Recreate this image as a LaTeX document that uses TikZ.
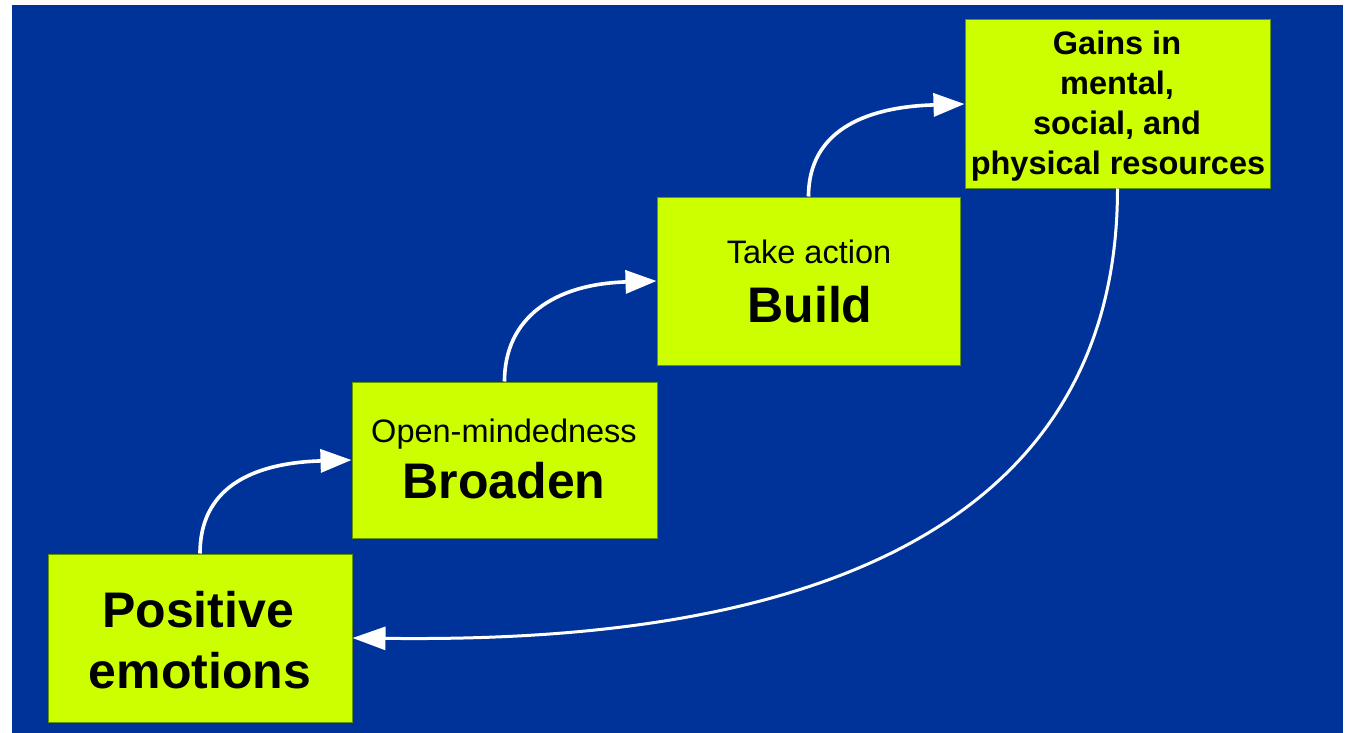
\documentclass[tikz,border=0pt]{standalone}
\usepackage{fontspec}
\setmainfont{Liberation Sans}
\usetikzlibrary{arrows.meta}
\definecolor{bgblue}{RGB}{0,51,153}
\definecolor{boxfill}{RGB}{204,255,0}
\definecolor{boxline}{RGB}{100,150,0}
\tikzset{
  box/.style={draw=boxline, line width=1pt, fill=boxfill, inner sep=0pt, rectangle},
  bigtxt/.style={anchor=base, inner sep=0pt, font=\fontsize{50}{61}\selectfont\bfseries},
  smalltxt/.style={anchor=base, inner sep=0pt, font=\fontsize{32.5}{40}\selectfont},
  gaintxt/.style={anchor=base, inner sep=0pt, font=\fontsize{32.5}{40}\selectfont\bfseries},
  arr/.style={draw=white, line width=3.6pt, -{Triangle[length=31pt,width=23pt]}},
  arrlong/.style={draw=white, line width=3pt, -{Triangle[length=33pt,width=23pt]}},
}
\begin{document}
\begin{tikzpicture}[x=1pt,y=-1pt]
\fill[white] (0,0) rectangle (1355,733);
\useasboundingbox (0,0) rectangle (1355,733);
\fill[bgblue] (12,5) rectangle (1343,733);

\node[box, minimum width=304pt, minimum height=168pt] (pos) at (200,638) {};
\node[box, minimum width=305pt, minimum height=156pt] (broad) at (504.5,460) {};
\node[box, minimum width=303pt, minimum height=168pt] (build) at (808.5,281) {};
\node[box, minimum width=305pt, minimum height=168pt] (gains) at (1117.5,104) {};

\node[bigtxt] (pos1) at (198,627) {Positive};
\node[bigtxt] (pos2) at (200,688) {emotions};

\node[smalltxt] (br1) at (504,442) {Open-mindedness};
\node[bigtxt] (br2) at (504,498) {Broaden};

\node[smalltxt] (bu1) at (809,263) {Take action};
\node[bigtxt] (bu2) at (810,322) {Build};

\node[gaintxt] (g1) at (1117,55) {Gains in};
\node[gaintxt] (g2) at (1117,95) {mental,};
\node[gaintxt] (g3) at (1117,135) {social, and};
\node[gaintxt] (g4) at (1118,175) {physical resources};

\draw[arr] (pos.north) .. controls +(0,-64) and +(-102,3) .. (broad.west);
\draw[arr] (broad.north) .. controls +(0,-64) and +(-102,3) .. (build.west);
\draw[arr] (build.north) .. controls +(0,-64) and +(-102,3) .. (gains.west);
\draw[arrlong] (gains.south) .. controls +(0,430) and +(268,3) .. (pos.east);
\end{tikzpicture}
\end{document}
